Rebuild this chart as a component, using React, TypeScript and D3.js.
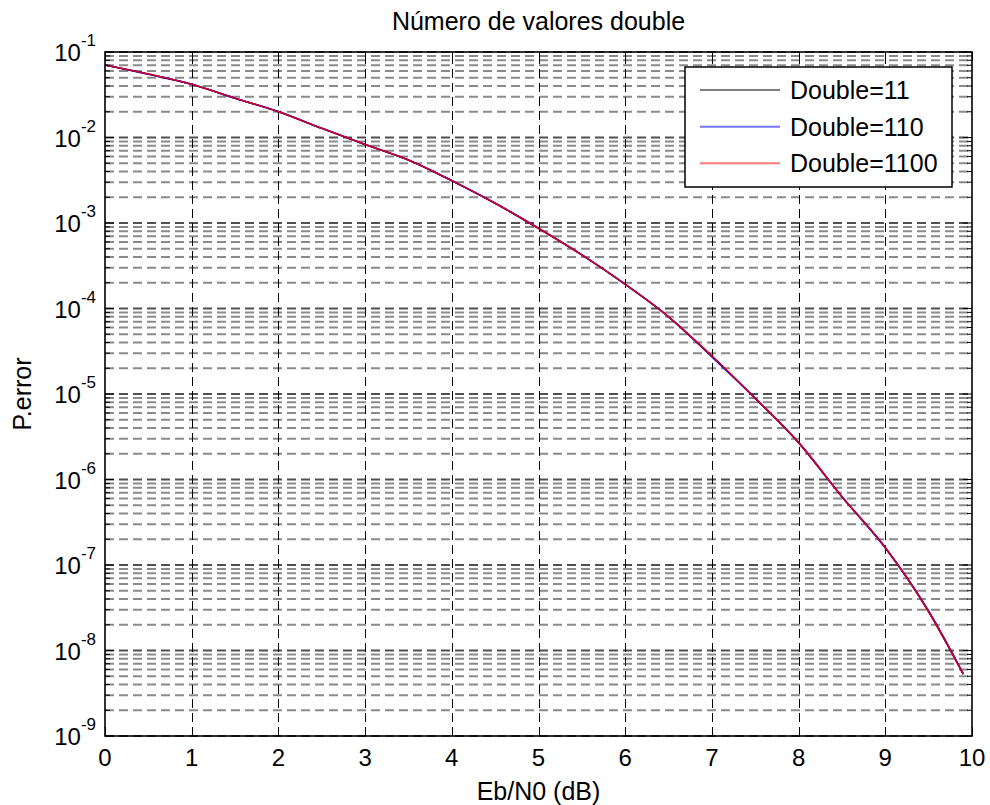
import React from 'react';
import * as d3 from 'd3';

// Eb/N0 (dB) sample points
const ebn0 = [0, 0.5, 1, 1.5, 2, 2.5, 3, 3.5, 4, 4.5, 5, 5.5, 6, 6.5, 7, 7.5, 8, 8.5, 9, 9.5, 9.9];

// P.error for each number of double values
const perrDouble11 = [
  0.0705, 0.0553, 0.0419, 0.0288, 0.02, 0.0128, 0.0083, 0.00546, 0.00313, 0.0017, 0.000867,
  0.000423, 0.000192, 8.0e-5, 2.78e-5, 8.9e-6, 2.7e-6, 6.3e-7, 1.6e-7, 2.84e-8, 5.3e-9,
];
const perrDouble110 = [
  0.0705, 0.0548, 0.0419, 0.0288, 0.0201, 0.0128, 0.0083, 0.00546, 0.00312, 0.0017, 0.000866,
  0.000423, 0.000191, 8.0e-5, 2.72e-5, 8.9e-6, 2.7e-6, 6.3e-7, 1.58e-7, 2.9e-8, 5.3e-9,
];
const perrDouble1100 = [
  0.0705, 0.0553, 0.0419, 0.0288, 0.02, 0.0128, 0.0083, 0.00546, 0.00313, 0.0017, 0.000867,
  0.000423, 0.000192, 8.0e-5, 2.78e-5, 8.9e-6, 2.7e-6, 6.3e-7, 1.6e-7, 2.84e-8, 5.3e-9,
];

const seriesNames = ['Double=11', 'Double=110', 'Double=1100'];
const xTickValues = [0, 1, 2, 3, 4, 5, 6, 7, 8, 9, 10];
const yDecades = [-9, -8, -7, -6, -5, -4, -3, -2, -1];

const W = 990;
const H = 805;
const margin = { top: 52, right: 18, bottom: 69, left: 105 };
const FONT = '"Liberation Sans", Arial, Helvetica, sans-serif';

const App = () => {
  const x = d3.scaleLinear().domain([0, 10]).range([margin.left, W - margin.right]);
  const y = d3.scaleLog().domain([1e-9, 1e-1]).range([H - margin.bottom, margin.top]);

  const x0 = margin.left;
  const x1 = W - margin.right;
  const y0 = H - margin.bottom;
  const y1 = margin.top;

  const allYTicks = y.ticks();
  const isDecade = (v: number) => Math.abs(Math.log10(v) - Math.round(Math.log10(v))) < 1e-6;

  const line = d3
    .line<number>()
    .x((_, i) => x(ebn0[i]))
    .y((d) => y(d))
    .curve(d3.curveMonotoneX);

  const series = [
    { name: seriesNames[0], values: perrDouble11, color: '#000000', legend: '#7f7f7f', opacity: 1 },
    { name: seriesNames[1], values: perrDouble110, color: '#0000ff', legend: '#7474ff', opacity: 1 },
    { name: seriesNames[2], values: perrDouble1100, color: '#ff0000', legend: '#ff7a7a', opacity: 0.82 },
  ];

  const legendBox = { x: 685, y: 67, w: 267, h: 120 };
  const legendRows = [90, 126.7, 163.3];

  return (
    <svg
      width={W}
      height={H}
      style={{ position: 'absolute', left: 0, top: 0, background: '#fff' }}
      fontFamily={FONT}
    >
      <rect x={0} y={0} width={W} height={H} fill="#fff" />

      {/* horizontal grid: minor (gray) and decades (dark) */}
      {allYTicks.map((v, i) => (
        <line
          key={'hg' + i}
          x1={x0}
          x2={x1}
          y1={y(v)}
          y2={y(v)}
          stroke={isDecade(v) ? '#505050' : '#8a8a8a'}
          strokeWidth={2}
          strokeDasharray="9,5"
        />
      ))}

      {/* vertical grid */}
      {xTickValues.slice(1, -1).map((v) => (
        <line
          key={'vg' + v}
          x1={Math.round(x(v)) + 0.5}
          x2={Math.round(x(v)) + 0.5}
          y1={y0}
          y2={y1}
          stroke="#000"
          strokeWidth={1}
          strokeDasharray="9,5"
        />
      ))}

      {/* curves */}
      {series.map((s) => (
        <path
          key={s.name}
          d={line(s.values) || ''}
          fill="none"
          stroke={s.color}
          strokeWidth={1.6}
          strokeOpacity={s.opacity}
        />
      ))}

      {/* ticks, inward on all sides */}
      {xTickValues.map((v) => (
        <g key={'xt' + v} stroke="#000" strokeWidth={1}>
          <line x1={Math.round(x(v)) + 0.5} x2={Math.round(x(v)) + 0.5} y1={y0} y2={y0 - 9} />
          <line x1={Math.round(x(v)) + 0.5} x2={Math.round(x(v)) + 0.5} y1={y1} y2={y1 + 9} />
        </g>
      ))}
      {allYTicks.map((v, i) => {
        const len = isDecade(v) ? 9 : 5;
        return (
          <g key={'yt' + i} stroke="#000" strokeWidth={1}>
            <line x1={x0} x2={x0 + len} y1={y(v)} y2={y(v)} />
            <line x1={x1} x2={x1 - len} y1={y(v)} y2={y(v)} />
          </g>
        );
      })}

      {/* axes box */}
      <rect x={x0} y={y1} width={x1 - x0} height={y0 - y1} fill="none" stroke="#000" strokeWidth={1.6} />

      {/* x tick labels */}
      {xTickValues.map((v) => (
        <text key={'xl' + v} x={x(v)} y={766} textAnchor="middle" fontSize={24} fill="#000">
          {v}
        </text>
      ))}

      {/* y tick labels: 10^n */}
      {yDecades.map((d) => (
        <text key={'yl' + d} x={96} y={y(Math.pow(10, d)) + 9} textAnchor="end" fontSize={24} fill="#000">
          10
          <tspan fontSize={17} dy={-15}>
            {'-' + Math.abs(d)}
          </tspan>
        </text>
      ))}

      {/* title and axis labels */}
      <text x={(x0 + x1) / 2} y={30} textAnchor="middle" fontSize={25} fill="#000">
        Número de valores double
      </text>
      <text x={(x0 + x1) / 2} y={800} textAnchor="middle" fontSize={25} fill="#000">
        Eb/N0 (dB)
      </text>
      <text
        transform={`translate(31,${(y0 + y1) / 2}) rotate(-90)`}
        textAnchor="middle"
        fontSize={25}
        fill="#000"
      >
        P.error
      </text>

      {/* legend */}
      <rect
        x={legendBox.x}
        y={legendBox.y}
        width={legendBox.w}
        height={legendBox.h}
        fill="#fff"
        stroke="#000"
        strokeWidth={1.5}
      />
      {series.map((s, i) => (
        <g key={'lg' + s.name}>
          <line x1={700} x2={780} y1={legendRows[i]} y2={legendRows[i]} stroke={s.legend} strokeWidth={2} />
          <text x={790} y={legendRows[i] + 9} fontSize={25} fill="#000">
            {s.name}
          </text>
        </g>
      ))}
    </svg>
  );
};

export default App;
